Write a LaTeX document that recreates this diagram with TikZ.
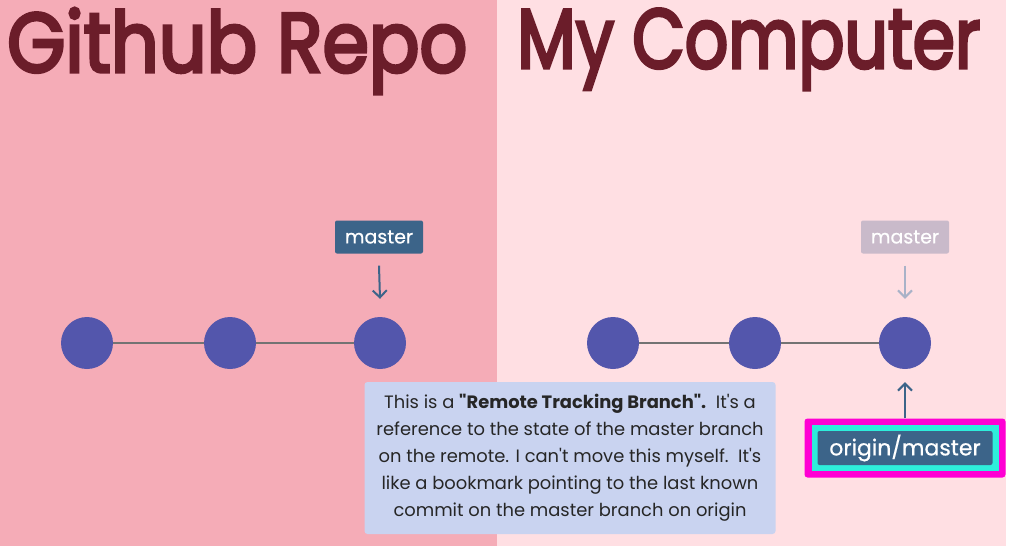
\documentclass[tikz,border=0pt]{standalone}
\usepackage{fontspec}
\setmainfont{Poppins}[Ligatures=TeXOff]
\usepackage{tikz}
\usetikzlibrary{arrows.meta,positioning}
\usepackage{xcolor}
\definecolor{RepoPink}{HTML}{F5ACB7}
\definecolor{PcPink}{HTML}{FFDFE3}
\definecolor{Wine}{HTML}{6B1D2A}
\definecolor{Commit}{HTML}{5356AC}
\definecolor{Steel}{HTML}{3C6489}
\definecolor{Faded}{HTML}{C9BACA}
\definecolor{FadedArr}{HTML}{A9B2C8}
\definecolor{NoteBlue}{HTML}{C9D3F0}
\definecolor{Magenta}{HTML}{FF00D4}
\definecolor{Cyan}{HTML}{2EEDDB}
\tikzset{
  commit/.style={circle, fill=Commit, minimum size=52pt, inner sep=0pt},
  tag/.style={rounded corners=2pt, fill=#1, text=white, inner sep=0pt,
    minimum height=33pt, minimum width=88pt,
    font=\fontsize{19}{19}\selectfont\addfontfeatures{FakeBold=0.6}},
  tag/.default={Steel},
  ptr/.style={-{Straight Barb[length=7pt,width=14pt]}, line width=2pt, color=#1},
  ptr/.default={Steel},
  link/.style={line width=2.5pt, color=black!55},
}

\begin{document}
\begin{tikzpicture}[x=1pt, y=-1pt,
  title/.style={text=Wine, anchor=base west, inner sep=0pt,
    font=\fontsize{84}{84}\selectfont\addfontfeatures{FakeBold=4}},
]
  \useasboundingbox[fill=white] (0,0) rectangle (1009,551);
  \fill[RepoPink] (0,0) rectangle (497,546);
  \fill[PcPink] (497,0) rectangle (1006,546);

  \node[title] (repo) at (7,72) {\scalebox{0.89}[1]{Github Repo}};
  \node[title] (pc) at (517,68) {\scalebox{0.81}[1]{My Computer}};

  % github side
  \node[commit] (g1) at (87,343) {};
  \node[commit] (g2) at (230,343) {};
  \node[commit] (g3) at (380,343) {};
  \draw[link] (g1) -- (g2) -- (g3);
  \node[tag] (gmaster) at (379,237) {master};
  \draw[ptr] ([yshift=-12pt]gmaster.south) -- ([yshift=18pt]g3.north);

  % local side
  \node[commit] (c1) at (613,343) {};
  \node[commit] (c2) at (755,343) {};
  \node[commit] (c3) at (905,343) {};
  \draw[link] (c1) -- (c2) -- (c3);
  \node[tag=Faded] (cmaster) at (905,237) {master};
  \draw[ptr=FadedArr] ([yshift=-12pt]cmaster.south) -- ([yshift=18pt]c3.north);

  \node[rounded corners=3pt, fill=Magenta, minimum width=201pt, minimum height=59pt] (hlout) at (905,448) {};
  \node[fill=Cyan, minimum width=187pt, minimum height=46pt] (hlin) at (hlout) {};
  \node[tag, minimum width=175pt, minimum height=34pt,
    font=\fontsize{22}{22}\selectfont\addfontfeatures{FakeBold=0.6}] (origin) at (hlout) {origin/master};
  \draw[ptr] (hlout.north) -- ([yshift=-13pt]c3.south);

  \node[fill=NoteBlue, rounded corners=3pt, minimum width=411pt, minimum height=152pt,
    align=center, font=\fontsize{17.9}{27}\selectfont, text=black!85] (note) at (570,458)
    {This is a \textbf{"Remote Tracking Branch".}\ \ It's a\\
     reference to the state of the master branch\\
     on the remote. I can't move this myself.\ \ It's\\
     like a bookmark pointing to the last known\\
     commit on the master branch on origin};
\end{tikzpicture}
\end{document}
